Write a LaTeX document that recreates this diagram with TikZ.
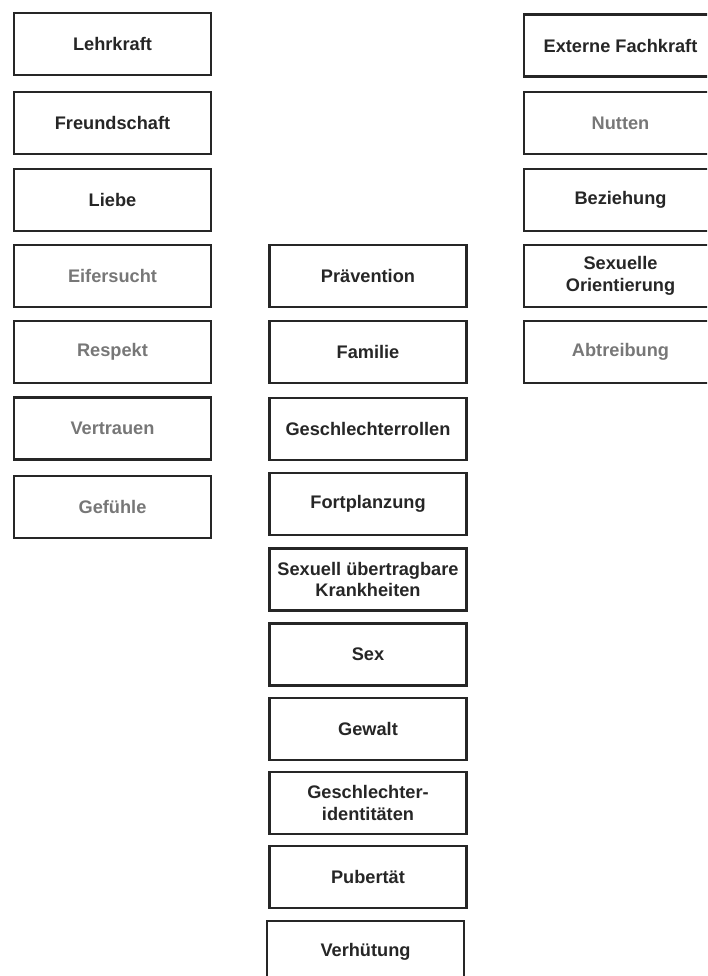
\documentclass[tikz,border=0pt]{standalone}
\usepackage{fontspec}
\setmainfont{Liberation Sans}
\definecolor{graytext}{HTML}{777777}
\begin{document}
\begin{tikzpicture}[x=1pt,y=-1pt,
  box/.style={draw=black!85, line width=2.6pt, minimum width=197pt, minimum height=62pt,
    inner sep=0pt, align=center, font=\fontsize{18.2}{21.5}\selectfont\bfseries, text=black!85},
  rbox/.style={box, minimum width=193pt},
  dim/.style={text=graytext}]
\useasboundingbox (0,0) rectangle (707,976);
\clip (0,0) rectangle (707,976);
% left column
\node[box] (lehrkraft) at (112.5,44) {Lehrkraft};
\node[box] (freundschaft) at (112.5,123) {Freundschaft};
\node[box] (liebe) at (112.5,200) {Liebe};
\node[box,dim] (eifersucht) at (112.5,276) {Eifersucht};
\node[box,dim] (respekt) at (112.5,352) {Respekt};
\node[box,dim] (vertrauen) at (112.5,428.5) {Vertrauen};
\node[box,dim] (gefuehle) at (112.5,507) {Gefühle};
% middle column
\node[box] (praevention) at (368,276) {Prävention};
\node[box] (familie) at (368,352) {Familie};
\node[box] (rollen) at (368,429) {Geschlechterrollen};
\node[box] (fortpl) at (368,504) {Fortplanzung};
\node[box] (sti) at (368,579.5) {Sexuell übertragbare\\Krankheiten};
\node[box] (sex) at (368,654.5) {Sex};
\node[box] (gewalt) at (368,729) {Gewalt};
\node[box] (ident) at (368,803) {Geschlechter-\\identitäten};
\node[box] (pubertaet) at (368,877) {Pubertät};
\node[box] (verhuetung) at (365.5,952) {Verhütung};
% right column
\node[rbox] (extern) at (620.5,45.5) {Externe Fachkraft};
\node[rbox,dim] (nutten) at (620.5,123) {Nutten};
\node[rbox] (beziehung) at (620.5,200) {Beziehung};
\node[rbox] (orient) at (620.5,276) {Sexuelle\\Orientierung};
\node[rbox,dim] (abtreibung) at (620.5,352) {Abtreibung};
\end{tikzpicture}
\end{document}
